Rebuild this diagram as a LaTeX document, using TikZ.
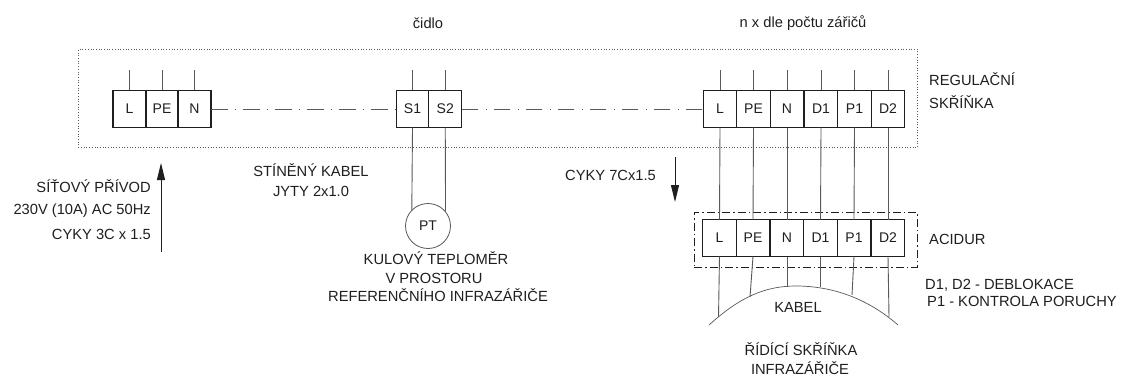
\documentclass[tikz,border=0pt]{standalone}
\usepackage{fontspec}
\setmainfont{Liberation Sans}
\usetikzlibrary{arrows.meta}
\definecolor{ink}{gray}{0.12}
\definecolor{soft}{gray}{0.35}
\tikzset{
  x=1pt,y=-1pt,
  term/.style={draw=ink,line width=1.2pt,minimum height=37pt,inner sep=0pt,outer sep=0pt,font=\fontsize{14}{16}\selectfont,text=ink},
  w33/.style={term,minimum width=33.5pt},
  wire/.style={draw=soft,line width=0.9pt},
  chain/.style={draw=soft,line width=0.9pt,dash pattern=on 16.5pt off 7.5pt on 1pt off 7pt},
  lab/.style={font=\fontsize{14.7}{16}\selectfont,text=ink,inner sep=0pt,align=center},
  labl/.style={lab,anchor=west,align=left},
  labr/.style={lab,anchor=east,align=right},
  flow/.style={draw=ink,line width=0.9pt,-{Stealth[length=17pt,width=8pt,inset=0pt]}},
}
\begin{document}
\begin{tikzpicture}
\useasboundingbox (0,0) rectangle (1123,377);
\fill[white] (0,0) rectangle (1123,377);
\node[draw=soft,line width=0.7pt,dotted,minimum width=839pt,minimum height=98pt,inner sep=0pt,anchor=north west] (skrin) at (78,49) {};
\node[draw=ink,line width=0.6pt,dash pattern=on 8pt off 3pt on 1.5pt off 3pt,minimum width=223pt,minimum height=55pt,inner sep=0pt,anchor=north west] (aci) at (694,212) {};
\foreach \n/\t/\cx/\w in {a/L/129.5/33,b/PE/162/32,c/N/194.5/33}
  \node[term,minimum width=\w pt] (\n) at (\cx,109) {\t};
\node[term,minimum width=32.5pt] (s) at (412.5,109) {S1};
\node[term,minimum width=33pt] (u) at (445.25,109) {S2};
\foreach \n/\t/\cx in {rl/L/720,rpe/PE/753.5,rn/N/787,rda/D1/821,rp/P1/854.5,rdb/D2/888}
  \node[w33] (\n) at (\cx,109) {\t};
\foreach \n/\t/\cx in {ll/L/719.5,lpe/PE/753,ln/N/787,lda/D1/820.5,lp/P1/854,ldb/D2/888}
  \node[w33] (\n) at (\cx,238) {\t};
\node[circle,draw=soft,line width=0.8pt,minimum size=45pt,inner sep=0pt,font=\fontsize{14}{16}\selectfont,text=ink] (pt) at (428,226) {PT};
% stubs
\foreach \n in {a,b,c,s,u,rl,rpe,rn,rda,rp,rdb}
  \draw[wire] (\n.north) -- ++(0,-20);
% dash-dot links
\draw[chain] (c.east) -- (s.west);
\draw[chain] (u.east) -- (rl.west);
% sensor
\draw[wire] (s.south) -- (pt.135);
\draw[wire] (u.south) -- (pt.40);
% terminal to terminal
\draw[wire] (rl.south) -- (ll.north);
\draw[wire] (rpe.south) -- (lpe.north);
\draw[wire] (rn.south) -- (ln.north);
\draw[wire] (rda.south) -- (lda.north);
\draw[wire] (rp.south) -- (lp.north);
\draw[wire] (rdb.south) -- (ldb.north);
% cable arc
\draw[draw=soft,line width=0.7pt] (709,325) .. controls (740,297) and (765,286) .. (796,286) .. controls (830,286) and (866,297) .. (898,325);
\coordinate (ea) at (718.5,317);
\coordinate (eb) at (750,297);
\coordinate (ec) at (787,286.5);
\coordinate (ed) at (820.5,287);
\coordinate (ee) at (852,295);
\coordinate (ef) at (889,317);
\draw[wire] (ll.south) -- (ea);
\draw[wire] (lpe.south) -- (eb);
\draw[wire] (ln.south) -- (ec);
\draw[wire] (lda.south) -- (ed);
\draw[wire] (lp.south) -- (ee);
\draw[wire] (ldb.south) -- (ef);
% arrows
\coordinate (u1) at (161,252);\coordinate (u2) at (161,163);
\coordinate (d1) at (675,157);\coordinate (d2) at (675,202);
\draw[flow] (u1) -- (u2);
\draw[flow] (d1) -- (d2);
% labels
\node[lab] (t1) at (428,23) {čidlo};
\node[lab] (t2) at (803,23) {n x dle počtu zářičů};
\node[labl] (t3) at (929,79) {REGULAČNÍ};
\node[labl] (t4) at (929,102) {SKŘÍŇKA};
\node[labl] (t5) at (929,239) {ACIDUR};
\node[labl] (t6) at (925,285) {D1, D2 - DEBLOKACE};
\node[labl] (t7) at (927,301) {P1 - KONTROLA PORUCHY};
\node[labr] (t8) at (151,186) {SÍŤOVÝ PŘÍVOD};
\node[labr] (t9) at (151,211) {230V (10A) AC 50Hz};
\node[labr] (t10) at (151,234) {CYKY 3C x 1.5};
\node[lab] (t11) at (311,170) {STÍNĚNÝ KABEL};
\node[lab] (t12) at (311,191) {JYTY 2x1.0};
\node[labl] (t13) at (565,175) {CYKY 7Cx1.5};
\node[lab] (t14) at (436,258) {KULOVÝ TEPLOMĚR};
\node[lab] (t15) at (434,278) {V PROSTORU};
\node[lab] (t16) at (438,295) {REFERENČNÍHO INFRAZÁŘIČE};
\node[lab] (t17) at (798,307) {KABEL};
\node[lab] (t18) at (801,349) {ŘÍDÍCÍ SKŘÍŇKA};
\node[lab] (t19) at (800,368) {INFRAZÁŘIČE};
\end{tikzpicture}
\end{document}
